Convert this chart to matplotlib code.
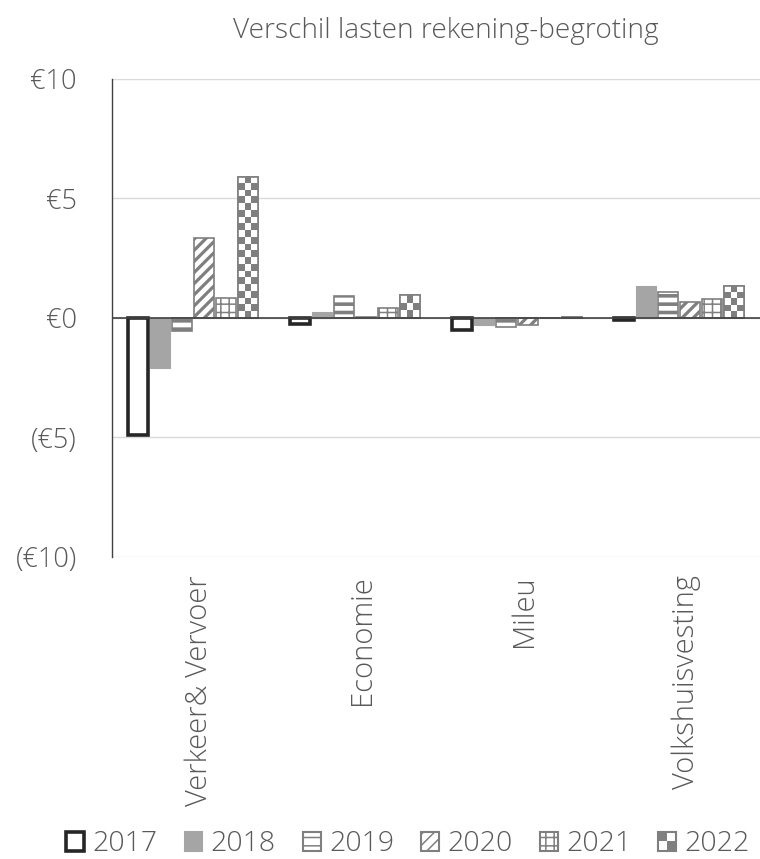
import numpy as np
import matplotlib
matplotlib.use("Agg")
import matplotlib.pyplot as plt
from matplotlib.patches import Patch, Rectangle
from matplotlib.legend_handler import HandlerBase
from matplotlib.transforms import offset_copy

plt.rcParams['font.family'] = ['Open Sans', 'DejaVu Sans']

# data (x 1 mln euro)
categories = ["Verkeer& Vervoer", "Economie", "Mileu", "Volkshuisvesting"]
years = ["2017", "2018", "2019", "2020", "2021", "2022"]
v2017 = [-4.9, -0.25, -0.5, -0.1]
v2018 = [-2.1, 0.25, -0.3, 1.35]
v2019 = [-0.55, 0.9, -0.4, 1.1]
v2020 = [3.35, 0.05, -0.3, 0.65]
v2021 = [0.85, 0.4, 0.0, 0.8]
v2022 = [5.9, 0.95, 0.05, 1.35]
series = [v2017, v2018, v2019, v2020, v2021, v2022]

txt = "#595959"
edge = "#7f7f7f"
styles = [
    dict(facecolor="white", edgecolor="#262626", linewidth=2.6, hatch=None, hlw=1.0),
    dict(facecolor="#a5a5a5", edgecolor="#a5a5a5", linewidth=0.8, hatch=None, hlw=1.0),
    dict(facecolor="white", edgecolor=edge, linewidth=1.2, hatch="--", hlw=2.6),
    dict(facecolor="white", edgecolor=edge, linewidth=1.2, hatch="///", hlw=2.3),
    dict(facecolor="white", edgecolor=edge, linewidth=1.2, hatch="++", hlw=1.1),
    dict(facecolor="white", edgecolor=edge, linewidth=1.2, hatch=None, hlw=1.0),
]


class CheckerHandler(HandlerBase):
    def create_artists(self, legend, orig_handle, xdescent, ydescent, width, height, fontsize, trans):
        x0, y0 = -xdescent, -ydescent
        arts = [Rectangle((x0, y0), width, height, facecolor="white", edgecolor=edge,
                          linewidth=1.5, transform=trans)]
        hw, hh = width / 2, height / 2
        arts.append(Rectangle((x0, y0 + hh), hw, hh, facecolor=edge, linewidth=0, transform=trans))
        arts.append(Rectangle((x0 + hw, y0), hw, hh, facecolor=edge, linewidth=0, transform=trans))
        return arts


fig = plt.figure(figsize=(7.6, 8.59), dpi=100)
ax = fig.add_axes([0.147, 0.3516, 0.853, 0.5566])

x = np.arange(len(categories))
w = 0.122
gap = 0.136
for i, vals in enumerate(series):
    pos = x + (i - 2.5) * gap
    st = styles[i]
    plt.rcParams['hatch.linewidth'] = st["hlw"]
    bars = ax.bar(pos, vals, w, facecolor=st["facecolor"], edgecolor=st["edgecolor"],
                  linewidth=st["linewidth"], hatch=st["hatch"], zorder=3)
    if i == 5:
        # checker pattern clipped to the bars
        for b in bars:
            x0, y0 = b.get_x(), b.get_y()
            bw, bh = b.get_width(), b.get_height()
            if abs(bh) < 1e-6:
                continue
            nrows = max(2, int(round(abs(bh) / 0.28)))
            grid = (np.add.outer(np.arange(nrows), np.arange(3)) % 2).astype(float)
            img = ax.imshow(grid, cmap=matplotlib.colors.ListedColormap(["white", edge]),
                            extent=(x0, x0 + bw, min(y0, y0 + bh), max(y0, y0 + bh)),
                            aspect="auto", zorder=3.5, interpolation="nearest")
            img.set_clip_path(b)
            ax.bar(b.get_x() + bw / 2, bh, bw, bottom=y0, facecolor="none",
                   edgecolor=edge, linewidth=1.2, zorder=4)

ax.set_xlim(-0.5, 3.5)
ax.set_ylim(-10, 10)
ax.set_yticks([-10, -5, 0, 5, 10])
ax.set_yticklabels(["(€10)", "(€5)", "€0", "€5", "€10"])
ax.grid(axis="y", color="#d9d9d9", linewidth=1.0, zorder=0)
ax.axhline(0, color="#404040", linewidth=1.2, zorder=5)
for s in ["top", "right", "bottom"]:
    ax.spines[s].set_visible(False)
ax.spines["left"].set_color("#404040")
ax.spines["left"].set_linewidth(1.0)
ax.tick_params(axis="y", length=0, labelsize=19.5, labelcolor=txt, pad=25)
for lab in ax.get_yticklabels():
    lab.set_fontweight("light")
ax.set_xticks(x)
ax.set_xticklabels([])
ax.tick_params(axis="x", length=0)
lab_tr = offset_copy(ax.transData, fig=fig, x=5, y=0, units="points")
for xi, c in zip(x, categories):
    ax.text(xi, -10.75, c, rotation=90, ha="center", va="top", fontsize=21,
            color=txt, fontweight="light", transform=lab_tr)

fig.text(0.587, 0.964, "Verschil lasten rekening-begroting", ha="center", va="center",
         fontsize=20.2, color=txt, fontweight="light")

handles = []
for st in styles[:5]:
    plt.rcParams['hatch.linewidth'] = min(st["hlw"], 2.0)
    handles.append(Patch(facecolor=st["facecolor"], edgecolor=st["edgecolor"],
                         linewidth=st["linewidth"] if st["linewidth"] > 2 else 1.5,
                         hatch=st["hatch"]))
handles.append(Patch(facecolor="white", edgecolor=edge))
leg = fig.legend(handles, years, loc="center", bbox_to_anchor=(0.537, 0.017), ncol=6,
                 frameon=False, fontsize=20.5, labelcolor=txt, handlelength=0.62,
                 handleheight=0.62, handletextpad=0.3, columnspacing=0.95,
                 handler_map={handles[5]: CheckerHandler()})
for t in leg.get_texts():
    t.set_fontweight("light")

fig.savefig("out.png", dpi=100)
